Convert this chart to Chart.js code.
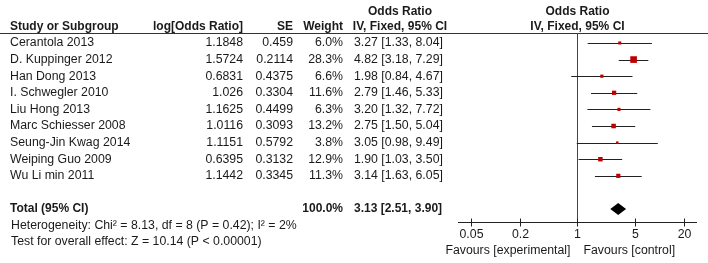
<!DOCTYPE html>
<html>
<head>
<meta charset="utf-8">
<script src="https://cdn.jsdelivr.net/npm/chart.js@4/dist/chart.umd.min.js"></script>
<style>
html,body{margin:0;padding:0;background:#fff;}
#wrap{width:708px;height:263px;position:relative;}
</style>
</head>
<body>
<div id="wrap"><canvas id="c" width="708" height="263"></canvas></div>
<script>
const studies = ['Cerantola 2013','D. Kuppinger 2012','Han Dong 2013','I. Schwegler 2010','Liu Hong 2013','Marc Schiesser 2008','Seung-Jin Kwag 2014','Weiping Guo 2009','Wu Li min 2011'];
const logOR = ['1.1848','1.5724','0.6831','1.026','1.1625','1.0116','1.1151','0.6395','1.1442'];
const seVals = ['0.459','0.2114','0.4375','0.3304','0.4499','0.3093','0.5792','0.3132','0.3345'];
const weights = [6.0,28.3,6.6,11.6,6.3,13.2,3.8,12.9,11.3];
const oddsRatio = [3.27,4.82,1.98,2.79,3.20,2.75,3.05,1.90,3.14];
const ciLow = [1.33,3.18,0.84,1.46,1.32,1.50,0.98,1.03,1.63];
const ciHigh = [8.04,7.29,4.67,5.33,7.72,5.04,9.49,3.50,6.05];
const totalOR = 3.13, totalLow = 2.51, totalHigh = 3.90, totalWeight = 100.0;
const tickValues = [0.05,0.2,1,5,20];
const heterogeneityText = 'Heterogeneity: Chi\u00B2 = 8.13, df = 8 (P = 0.42); I\u00B2 = 2%';
const overallText = 'Test for overall effect: Z = 10.14 (P < 0.00001)';
const favoursLeft = 'Favours [experimental]';
const favoursRight = 'Favours [control]';

const TOTAL_ROW = 10;
const FONT = 'Liberation Sans, Arial, sans-serif';
const REG = '12.3px ' + FONT;
const BOLD = 'bold 12px ' + FONT;
const TEXT = '#1a1a1a';

const forestPlugin = {
  id: 'forest',
  beforeDatasetsDraw(chart) {
    const ctx = chart.ctx, xs = chart.scales.x, ys = chart.scales.y;
    ctx.save();
    ctx.strokeStyle = '#333';
    ctx.lineWidth = 1;
    ctx.beginPath();
    ctx.moveTo(0, chart.chartArea.top + 0.5);
    ctx.lineTo(708, chart.chartArea.top + 0.5);
    ctx.stroke();
    const x1 = Math.round(xs.getPixelForValue(1)) + 0.5;
    ctx.strokeStyle = '#444';
    ctx.beginPath();
    ctx.moveTo(x1, chart.chartArea.top);
    ctx.lineTo(x1, chart.chartArea.bottom);
    ctx.stroke();
    ctx.strokeStyle = '#222';
    studies.forEach((s, i) => {
      const y = Math.round(ys.getPixelForValue(i)) + 0.5;
      ctx.beginPath();
      ctx.moveTo(xs.getPixelForValue(ciLow[i]), y);
      ctx.lineTo(xs.getPixelForValue(ciHigh[i]), y);
      ctx.stroke();
    });
    const yt = ys.getPixelForValue(TOTAL_ROW);
    ctx.fillStyle = '#000';
    ctx.beginPath();
    ctx.moveTo(xs.getPixelForValue(totalLow), yt);
    ctx.lineTo(xs.getPixelForValue(totalOR), yt - 6);
    ctx.lineTo(xs.getPixelForValue(totalHigh), yt);
    ctx.lineTo(xs.getPixelForValue(totalOR), yt + 6);
    ctx.closePath();
    ctx.fill();
    const yb = Math.round(chart.chartArea.bottom) + 0.5;
    ctx.strokeStyle = '#222';
    ctx.beginPath();
    ctx.moveTo(chart.chartArea.left, yb);
    ctx.lineTo(chart.chartArea.right, yb);
    ctx.stroke();
    ctx.fillStyle = TEXT;
    ctx.font = REG;
    ctx.textAlign = 'center';
    ctx.textBaseline = 'middle';
    tickValues.forEach(v => {
      const x = Math.round(xs.getPixelForValue(v)) + 0.5;
      ctx.beginPath();
      ctx.moveTo(x, yb - 4);
      ctx.lineTo(x, yb + 4);
      ctx.stroke();
      ctx.fillText(String(v), x, yb + 12);
    });
    ctx.textAlign = 'right';
    ctx.fillText(favoursLeft, x1 - 7, yb + 28);
    ctx.textAlign = 'left';
    ctx.fillText(favoursRight, x1 + 6, yb + 28);
    ctx.restore();
  },
  afterDraw(chart) {
    const ctx = chart.ctx, ys = chart.scales.y, xs = chart.scales.x;
    ctx.save();
    ctx.fillStyle = TEXT;
    ctx.textBaseline = 'middle';
    ctx.font = BOLD;
    ctx.textAlign = 'center';
    ctx.fillText('Odds Ratio', 400, 12);
    ctx.fillText('IV, Fixed, 95% CI', 400, 27);
    const xc = xs.getPixelForValue(1);
    ctx.fillText('Odds Ratio', xc, 12);
    ctx.fillText('IV, Fixed, 95% CI', xc, 27);
    ctx.textAlign = 'left';
    ctx.fillText('Study or Subgroup', 10, 27);
    ctx.textAlign = 'right';
    ctx.fillText('log[Odds Ratio]', 243, 27);
    ctx.fillText('SE', 293, 27);
    ctx.fillText('Weight', 343, 27);
    ctx.font = REG;
    studies.forEach((s, i) => {
      const y = ys.getPixelForValue(i);
      ctx.textAlign = 'left';
      ctx.fillText(s, 10, y);
      ctx.fillText(oddsRatio[i].toFixed(2) + ' [' + ciLow[i].toFixed(2) + ', ' + ciHigh[i].toFixed(2) + ']', 354, y);
      ctx.textAlign = 'right';
      ctx.fillText(logOR[i], 243, y);
      ctx.fillText(seVals[i], 293, y);
      ctx.fillText(weights[i].toFixed(1) + '%', 343, y);
    });
    const yt = ys.getPixelForValue(TOTAL_ROW);
    ctx.font = BOLD;
    ctx.textAlign = 'left';
    ctx.fillText('Total (95% CI)', 10, yt);
    ctx.fillText(totalOR.toFixed(2) + ' [' + totalLow.toFixed(2) + ', ' + totalHigh.toFixed(2) + ']', 354, yt);
    ctx.textAlign = 'right';
    ctx.fillText(totalWeight.toFixed(1) + '%', 343, yt);
    ctx.font = REG;
    ctx.textAlign = 'left';
    ctx.fillText(heterogeneityText, 11, yt + 17);
    ctx.fillText(overallText, 11, yt + 33);
    ctx.restore();
  }
};

new Chart(document.getElementById('c'), {
  type: 'scatter',
  data: {
    datasets: [{
      data: studies.map((s, i) => ({x: oddsRatio[i], y: i})),
      pointStyle: 'rect',
      pointRadius: weights.map(w => 0.884 * Math.sqrt(w)),
      backgroundColor: '#c00000',
      borderWidth: 0,
      clip: false
    }]
  },
  options: {
    responsive: false,
    animation: false,
    events: [],
    layout: {padding: {left: 458, right: 11, top: 33, bottom: 41}},
    plugins: {legend: {display: false}, tooltip: {enabled: false}},
    scales: {
      x: {type: 'logarithmic', min: 0.0351, max: 28.5, display: false},
      y: {type: 'linear', min: -0.6, max: 10.78, reverse: true, display: false}
    }
  },
  plugins: [forestPlugin]
});
</script>
</body>
</html>
